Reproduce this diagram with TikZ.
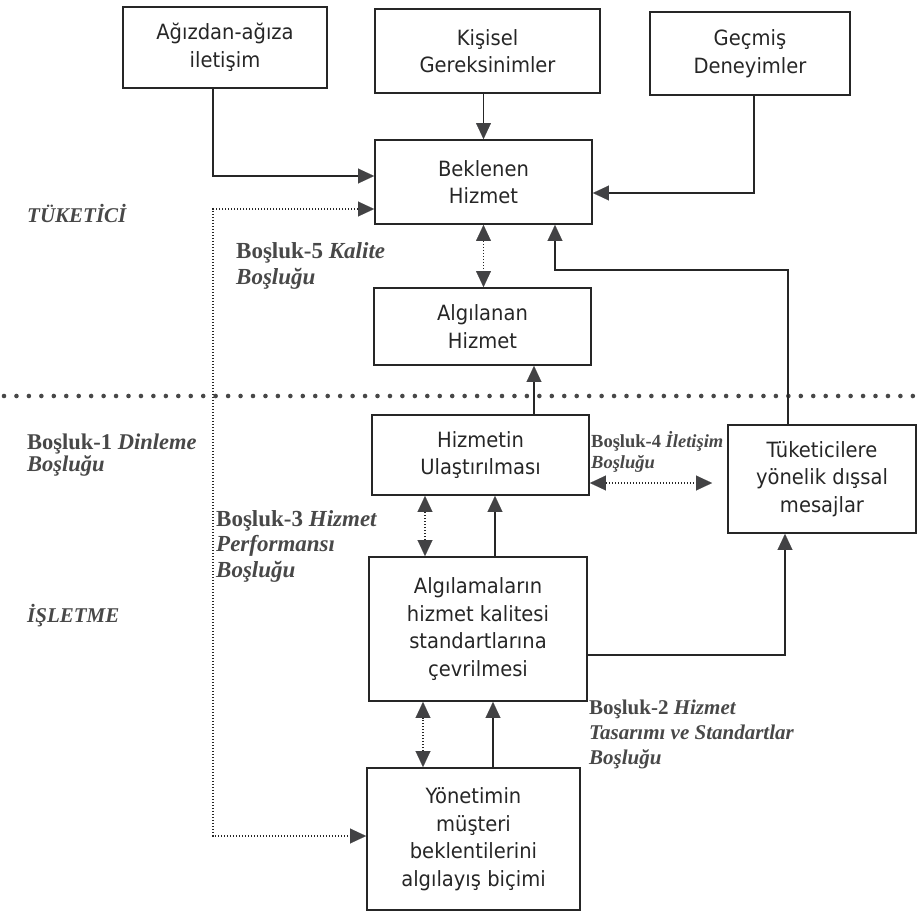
\documentclass[tikz,border=0pt]{standalone}
\usepackage{fontspec}
\setmainfont{Liberation Serif}
\newfontfamily\boxfont[FakeStretch=0.93]{DejaVu Sans}
\usetikzlibrary{arrows.meta}
\definecolor{ink}{RGB}{38,38,38}
\definecolor{headfill}{RGB}{66,66,68}
\definecolor{gaptext}{RGB}{72,72,72}
\tikzset{
  box/.style={draw=ink, line width=1.9pt, inner sep=0pt, align=center,
    font=\boxfont\fontsize{21}{27.5}\selectfont, text=ink},
  arr/.style={draw=ink, line width=1.8pt,
    -{Triangle[length=16pt,width=15pt,line width=0.1pt,color=headfill]}},
  dotarr/.style={draw=ink, line width=1.6pt, dash pattern=on 1.4pt off 1.6pt,
    {Triangle[length=16pt,width=15pt,line width=0.1pt,color=headfill]}-{Triangle[length=16pt,width=15pt,line width=0.1pt,color=headfill]}},
  sep/.style={draw=ink!85, line width=4.6pt, line cap=round, dash pattern=on 0pt off 12.45pt},
  gap/.style={text=gaptext, align=left, inner sep=0pt, anchor=base west,
    font=\bfseries\fontsize{23}{25.5}\selectfont},
  side/.style={text=gaptext, inner sep=0pt, anchor=base west,
    font=\bfseries\itshape\fontsize{21}{25}\selectfont}
}
\begin{document}
\begin{tikzpicture}[x=1pt,y=-1pt]
\useasboundingbox (0,0) rectangle (922,913);

% boxes
\node[box, minimum width=204pt, minimum height=81pt] (A) at (225,47.5) {Ağızdan-ağıza\\iletişim};
\node[box, minimum width=225pt, minimum height=84pt] (K) at (487.5,51) {Kişisel\\Gereksinimler};
\node[box, minimum width=200pt, minimum height=83pt] (G) at (750,53.5) {Geçmiş\\Deneyimler};
\node[box, minimum width=217pt, minimum height=84pt] (B) at (483.5,182) {Beklenen\\Hizmet};
\node[box, minimum width=217pt, minimum height=77pt] (AH) at (482.5,326.5) {Algılanan\\Hizmet};
\node[box, minimum width=217pt, minimum height=80pt] (H) at (480.5,455) {Hizmetin\\Ulaştırılması};
\node[box, minimum width=188pt, minimum height=108pt] (T) at (822,479) {Tüketicilere\\yönelik dışsal\\mesajlar};
\node[box, minimum width=218pt, minimum height=144pt] (S) at (478,629) {Algılamaların\\hizmet kalitesi\\standartlarına\\çevrilmesi};
\node[box, minimum width=213pt, minimum height=142pt] (Y) at (473.5,839) {Yönetimin\\müşteri\\beklentilerini\\algılayış biçimi};

% consumer / firm separator
\coordinate (sepL) at (4,396);
\coordinate (sepR) at (922,396);
\draw[sep] (sepL) -- (sepR);

% inputs to the expected service
\draw[arr] ([xshift=-12pt]A.south) |- ([yshift=6pt]B.west);
\draw[arr] (B.north |- K.south) -- (B.north);
\draw[arr] ([xshift=4pt]G.south) |- ([yshift=-11pt]B.east);
\coordinate (tk) at (555,270);
\draw[arr] ([xshift=-34pt]T.north) |- (tk) -- (tk |- B.south);

% gap 5
\draw[dotarr] (B.south) -- (B.south |- AH.north);
% gap 1
\coordinate (g1) at (213,836);
\draw[dotarr] ([yshift=-27pt]B.west) -| (g1) -- ([yshift=3pt]Y.west);

% delivery
\draw[arr] ([xshift=53.5pt]H.north) -- ([xshift=53.5pt]H.north |- AH.south);
% gap 4
\draw[dotarr, shorten >=15pt] ([yshift=-28pt]H.east) -- ([yshift=-28pt]H.east -| T.west);
% gap 3
\draw[dotarr] ([xshift=-53pt]S.north) -- ([xshift=-53pt]S.north |- H.south);
\draw[arr] ([xshift=17pt]S.north) -- ([xshift=17pt]S.north |- H.south);
% gap 2
\draw[dotarr] ([xshift=-50.5pt]Y.north) -- ([xshift=-50.5pt]Y.north |- S.south);
\draw[arr] ([xshift=19.5pt]Y.north) -- ([xshift=19.5pt]Y.north |- S.south);
% standards to external communication
\draw[arr] ([yshift=-26pt]S.east) -| ([xshift=-37pt]T.south);

% side headings
\node[side] (cons) at (27,222) {TÜKETİCİ};
\node[side] (firm) at (27,622) {İŞLETME};

% gap labels (anchored on the baseline of their last line)
\node[gap, font=\bfseries\fontsize{23}{26}\selectfont] (L5) at (236,284) {Boşluk-5 \textit{Kalite}\\\textit{Boşluğu}};
\node[gap, font=\bfseries\fontsize{22.5}{22}\selectfont] (L1) at (27,471) {Boşluk-1 \textit{Dinleme}\\\textit{Boşluğu}};
\node[gap] (L3) at (216,577) {Boşluk-3 \textit{Hizmet}\\\textit{Performansı}\\\textit{Boşluğu}};
\node[gap, font=\bfseries\fontsize{18.5}{21}\selectfont] (L4) at (591,468) {Boşluk-4 \textit{İletişim}\\\textit{Boşluğu}};
\node[gap, font=\bfseries\fontsize{21}{25}\selectfont] (L2) at (589,764) {Boşluk-2 \textit{Hizmet}\\\textit{Tasarımı ve Standartlar}\\\textit{Boşluğu}};
\end{tikzpicture}
\end{document}
